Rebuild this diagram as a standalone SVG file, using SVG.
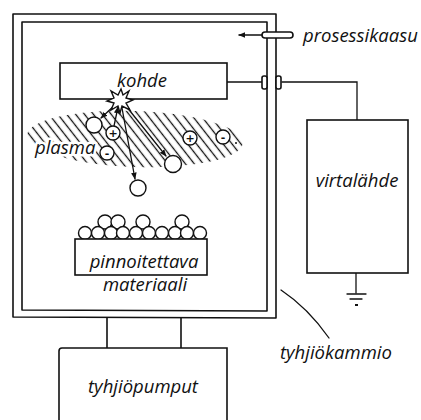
<svg xmlns="http://www.w3.org/2000/svg" width="421" height="420" viewBox="0 0 421 420">
  <style>
    .ln { fill: none; stroke: #111; stroke-width: 1.6; stroke-linejoin: round; stroke-linecap: round; }
    .thin { fill: none; stroke: #111; stroke-width: 1.3; stroke-linecap: round; }
    .box { fill: #fff; stroke: #111; stroke-width: 1.6; }
    .ball { fill: #fff; stroke: #111; stroke-width: 1.4; }
    .lbl { font-family: "Open Sans", "DejaVu Sans", sans-serif; font-style: italic; font-size: 18.5px; fill: #111; }
    .sign { font-family: "DejaVu Sans", sans-serif; font-size: 11px; font-weight: bold; fill: #111; text-anchor: middle; }
    .halo { stroke: #fff; stroke-width: 5; paint-order: stroke; stroke-linejoin: round; }
  </style>
  <defs>
    <marker id="head" viewBox="0 0 10 10" refX="9" refY="5" markerWidth="7" markerHeight="7" orient="auto" markerUnits="userSpaceOnUse">
      <path d="M0,1 L10,5 L0,9 Z" fill="#111"/>
    </marker>
    <pattern id="hatch" patternUnits="userSpaceOnUse" width="7" height="7" patternTransform="rotate(50)">
      <line x1="0" y1="3.5" x2="7" y2="3.5" stroke="#111" stroke-width="1.3"/>
    </pattern>
  </defs>

  <rect width="421" height="420" fill="#fff"/>

  <!-- vacuum chamber: double wall -->
  <g id="chamber">
    <path class="ln" d="M13,317 L13,14 L276,14 L276,318 Z"/>
    <path class="ln" d="M22,310 L22,22 L267,22 L267,311 Z"/>
  </g>

  <!-- plasma zone -->
  <g id="plasma">
    <ellipse cx="135" cy="139" rx="108" ry="28" fill="url(#hatch)" transform="rotate(2 135 139)"/>
    <text class="lbl halo" x="35" y="154">plasma</text>
  </g>

  <!-- connectors -->
  <g id="connectors">
    <!-- target to power supply wire -->
    <path class="thin" d="M227,82 L262,82"/>
    <path class="thin" d="M282,82 L357,82 L357,120"/>
    <!-- feedthrough collars on the wall -->
    <rect class="box" x="262" y="76" width="5" height="13" rx="2"/>
    <rect class="box" x="276" y="76" width="5" height="13" rx="2"/>
    <!-- ground -->
    <path class="thin" d="M356,273 L356,293"/>
    <path class="thin" d="M347,294 L366,294 M350,299 L362,299"/>
    <path d="M355,305 L358,305" stroke="#111" stroke-width="2"/>
    <!-- pump lines -->
    <path class="ln" d="M107,318 L107,348 M181,318 L181,348"/>
    <!-- chamber label leader -->
    <path class="thin" d="M281,290 Q308,308 329,338"/>
    <!-- gas inflow arrow -->
    <path class="thin" d="M262,35 L239,35" marker-end="url(#head)"/>
    <!-- particle paths -->
    <path class="thin" d="M116,104 L101,118" marker-end="url(#head)"/>
    <path class="thin" d="M114,126 L118,107" marker-end="url(#head)"/>
    <path class="thin" d="M126,106 L166,156" marker-end="url(#head)"/>
    <path class="thin" d="M122,108 L135,179" marker-end="url(#head)"/>
  </g>

  <!-- gas inlet -->
  <g id="gas-inlet">
    <rect class="box" x="262" y="32" width="31" height="6" rx="3"/>
    <text class="lbl" x="303" y="42">prosessikaasu</text>
  </g>

  <!-- target -->
  <g id="kohde">
    <rect class="box" x="60" y="63" width="167" height="36"/>
    <text class="lbl" x="142" y="87" text-anchor="middle">kohde</text>
  </g>

  <!-- impact spark -->
  <g id="spark">
    <polygon class="ball" points="121,89 123,95 129,91 126,98 133,100 126,103 130,110 122,106 120,113 118,106 111,110 114,103 107,101 114,98 111,91 118,95"/>
  </g>

  <!-- particles -->
  <g id="particles">
    <circle class="ball" cx="94" cy="125" r="8"/>
    <circle class="ball" cx="113" cy="133" r="7"/>
    <text class="sign" x="113" y="137">+</text>
    <circle class="ball" cx="107" cy="153" r="7"/>
    <text class="sign" x="107" y="157">-</text>
    <circle class="ball" cx="173" cy="164" r="8.5"/>
    <circle class="ball" cx="138" cy="188" r="8"/>
    <circle class="ball" cx="190" cy="138" r="7"/>
    <text class="sign" x="190" y="142">+</text>
    <circle class="ball" cx="223" cy="137" r="7"/>
    <text class="sign" x="223" y="141">-</text>
    <circle cx="236" cy="143" r="1" fill="#111"/>
  </g>

  <!-- substrate with deposited film -->
  <g id="substrate">
    <g class="ball">
      <circle cx="105" cy="222" r="7"/>
      <circle cx="118" cy="222" r="7"/>
      <circle cx="143" cy="222" r="7"/>
      <circle cx="182" cy="222" r="7"/>
      <circle cx="85" cy="233" r="6.5"/>
      <circle cx="98" cy="233" r="6.5"/>
      <circle cx="111" cy="233" r="6.5"/>
      <circle cx="123" cy="233" r="6.5"/>
      <circle cx="136" cy="233" r="6.5"/>
      <circle cx="149" cy="233" r="6.5"/>
      <circle cx="162" cy="233" r="6.5"/>
      <circle cx="175" cy="233" r="6.5"/>
      <circle cx="187" cy="233" r="6.5"/>
      <circle cx="200" cy="233" r="6.5"/>
    </g>
    <rect class="box" x="75" y="239" width="132" height="36"/>
    <text class="lbl" x="144" y="268" text-anchor="middle">pinnoitettava</text>
    <text class="lbl" x="145" y="291" text-anchor="middle">materiaali</text>
  </g>

  <!-- power supply -->
  <g id="virtalahde">
    <rect class="box" x="307" y="120" width="101" height="153"/>
    <text class="lbl" x="357" y="187" text-anchor="middle">virtalähde</text>
  </g>

  <!-- vacuum pumps -->
  <g id="pumput">
    <path class="box" d="M59,425 L59,351 Q59,348 62,348 L227,348 L227,425"/>
    <text class="lbl" x="143" y="393" text-anchor="middle">tyhjiöpumput</text>
  </g>

  <text class="lbl" x="280" y="359">tyhjiökammio</text>
</svg>
